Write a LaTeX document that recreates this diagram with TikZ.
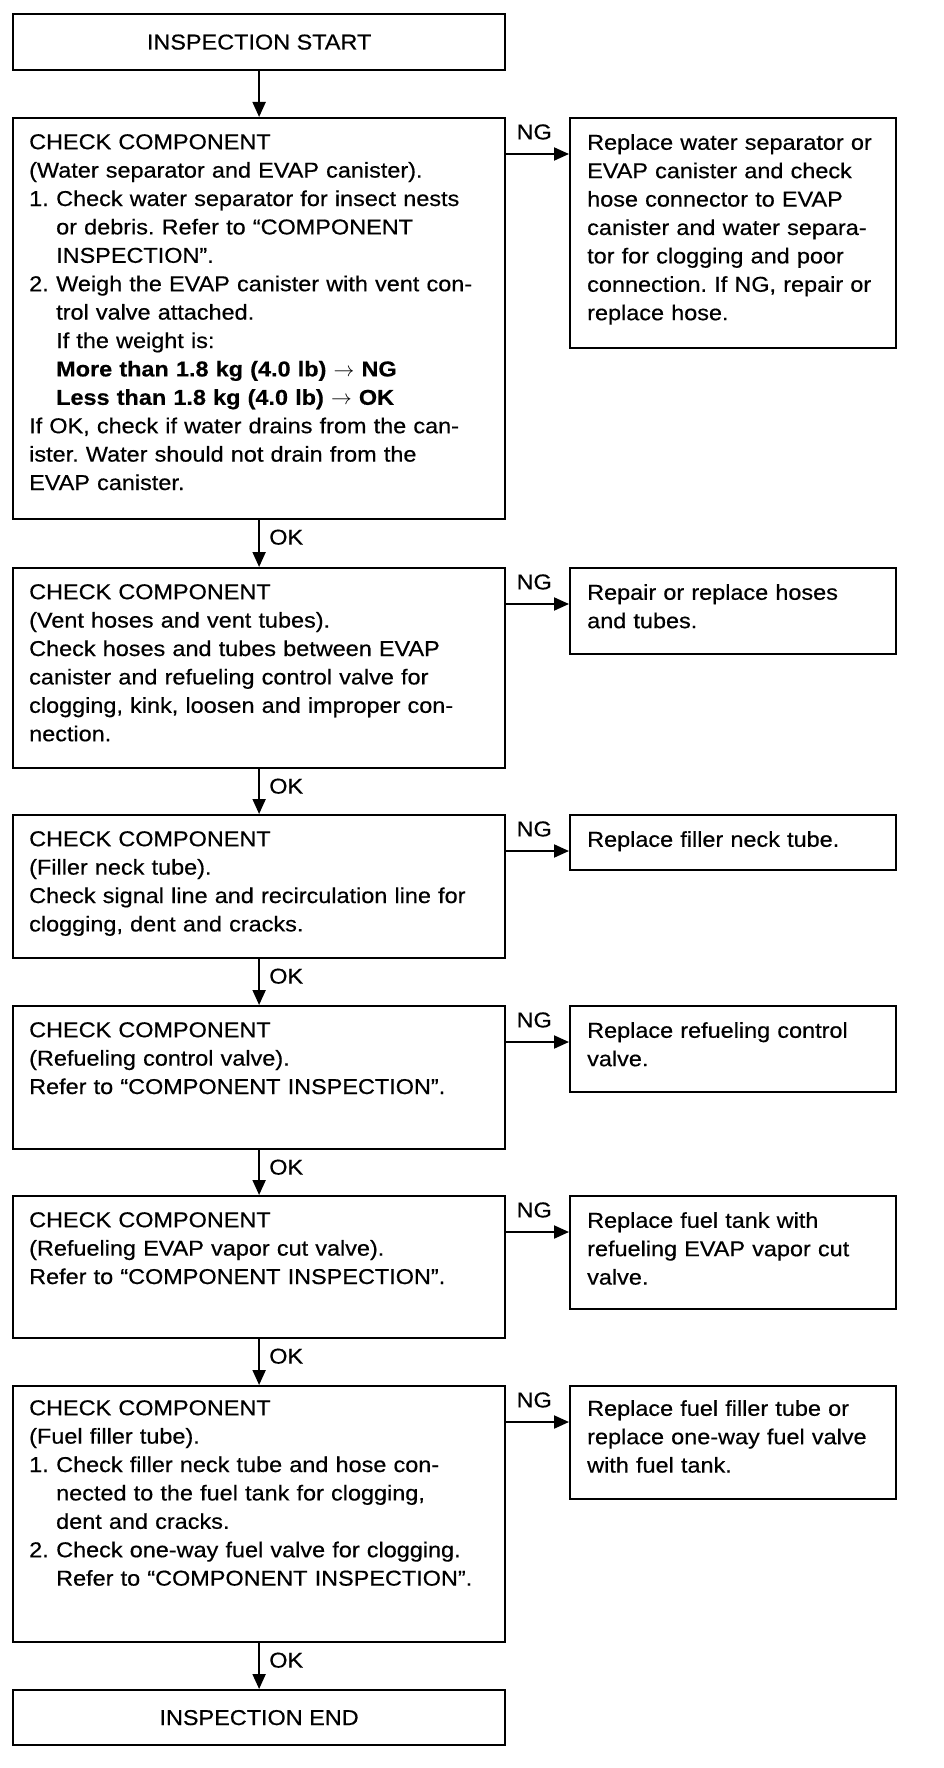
\documentclass[tikz,border=0pt]{standalone}
\usepackage{fontspec}
\setmainfont{Liberation Sans}[FakeStretch=1.09,FakeBold=0.5]
\usetikzlibrary{arrows.meta}
\newcommand\myfs{\fontsize{21.5}{28.4}\selectfont}
\newcommand\hang[1]{\makebox[27pt][l]{#1}}
\newcommand\ind{\hspace*{27pt}}
\frenchspacing
\begin{document}
\begin{tikzpicture}[x=1pt,y=-1pt,
  box/.style={draw, line width=2.2pt, rectangle, inner sep=0pt, anchor=north west, minimum width=492pt},
  ngbox/.style={box, minimum width=326pt},
  txt/.style={anchor=north west, inner sep=0pt, align=left, text width=480pt, font=\myfs},
  lbl/.style={inner sep=0pt, font=\myfs},
  arr/.style={line width=2pt, -{Triangle[width=13pt,length=15pt]}}]
\useasboundingbox[fill=white] (0,0) rectangle (944,1768);

% main column
\node[box, minimum height=56pt] (s) at (12,13) {};
\node[lbl] (st) at (s.center) {INSPECTION START};
\node[box, minimum height=401pt] (b1) at (12,117) {};
\node[box, minimum height=200pt] (b2) at (12,567) {};
\node[box, minimum height=143pt] (b3) at (12,814) {};
\node[box, minimum height=143pt] (b4) at (12,1005) {};
\node[box, minimum height=142pt] (b5) at (12,1195) {};
\node[box, minimum height=256pt] (b6) at (12,1385) {};
\node[box, minimum height=55pt] (e) at (12,1689) {};
\node[lbl] (et) at (e.center) {INSPECTION END};

% NG column
\node[ngbox, minimum height=230pt] (n1) at (569,117) {};
\node[ngbox, minimum height=86pt] (n2) at (569,567) {};
\node[ngbox, minimum height=55pt] (n3) at (569,814) {};
\node[ngbox, minimum height=86pt] (n4) at (569,1005) {};
\node[ngbox, minimum height=113pt] (n5) at (569,1195) {};
\node[ngbox, minimum height=113pt] (n6) at (569,1385) {};

% texts
\node[txt] (b1t) at ([shift={(17pt,-17pt)}]b1.north west) {CHECK COMPONENT\\
(Water separator and EVAP canister).\\
\hang{1.}Check water separator for insect nests\\
\ind or debris. Refer to “COMPONENT\\
\ind INSPECTION”.\\
\hang{2.}Weigh the EVAP canister with vent con-\\
\ind trol valve attached.\\
\ind If the weight is:\\
\ind\textbf{More than 1.8 kg (4.0 lb) $\rightarrow$ NG}\\
\ind\textbf{Less than 1.8 kg (4.0 lb) $\rightarrow$ OK}\\
If OK, check if water drains from the can-\\
ister. Water should not drain from the\\
EVAP canister.};
\node[txt] (b2t) at ([shift={(17pt,-17pt)}]b2.north west) {CHECK COMPONENT\\
(Vent hoses and vent tubes).\\
Check hoses and tubes between EVAP\\
canister and refueling control valve for\\
clogging, kink, loosen and improper con-\\
nection.};
\node[txt] (b3t) at ([shift={(17pt,-17pt)}]b3.north west) {CHECK COMPONENT\\
(Filler neck tube).\\
Check signal line and recirculation line for\\
clogging, dent and cracks.};
\node[txt] (b4t) at ([shift={(17pt,-17pt)}]b4.north west) {CHECK COMPONENT\\
(Refueling control valve).\\
Refer to “COMPONENT INSPECTION”.};
\node[txt] (b5t) at ([shift={(17pt,-17pt)}]b5.north west) {CHECK COMPONENT\\
(Refueling EVAP vapor cut valve).\\
Refer to “COMPONENT INSPECTION”.};
\node[txt] (b6t) at ([shift={(17pt,-15pt)}]b6.north west) {CHECK COMPONENT\\
(Fuel filler tube).\\
\hang{1.}Check filler neck tube and hose con-\\
\ind nected to the fuel tank for clogging,\\
\ind dent and cracks.\\
\hang{2.}Check one-way fuel valve for clogging.\\
\ind Refer to “COMPONENT INSPECTION”.};

\node[txt, text width=300pt] (n1t) at ([shift={(18pt,-17pt)}]n1.north west) {Replace water separator or\\
EVAP canister and check\\
hose connector to EVAP\\
canister and water separa-\\
tor for clogging and poor\\
connection. If NG, repair or\\
replace hose.};
\node[txt, text width=300pt] (n2t) at ([shift={(18pt,-17pt)}]n2.north west) {Repair or replace hoses\\
and tubes.};
\node[txt, text width=300pt] (n3t) at ([shift={(18pt,-17pt)}]n3.north west) {Replace filler neck tube.};
\node[txt, text width=300pt] (n4t) at ([shift={(18pt,-17pt)}]n4.north west) {Replace refueling control\\
valve.};
\node[txt, text width=300pt] (n5t) at ([shift={(18pt,-17pt)}]n5.north west) {Replace fuel tank with\\
refueling EVAP vapor cut\\
valve.};
\node[txt, text width=300pt] (n6t) at ([shift={(18pt,-15pt)}]n6.north west) {Replace fuel filler tube or\\
replace one-way fuel valve\\
with fuel tank.};

% vertical connectors
\draw[arr] (s.south) -- (b1.north);
\foreach \a/\b/\k in {b1/b2/1, b2/b3/2, b3/b4/3, b4/b5/4, b5/b6/5, b6/e/6} {
  \draw[arr] (\a.south) -- (\b.north);
  \node[lbl, anchor=west] (ok\k) at ([xshift=10pt,yshift=-17pt]\a.south) {OK};
}

% NG connectors
\foreach \k in {1,...,6} {
  \draw[arr] ([yshift=-37pt]b\k.north east) -- ([yshift=-37pt]n\k.north west);
  \node[lbl] (ng\k) at ([xshift=28pt,yshift=-15pt]b\k.north east) {NG};
}
\end{tikzpicture}
\end{document}
